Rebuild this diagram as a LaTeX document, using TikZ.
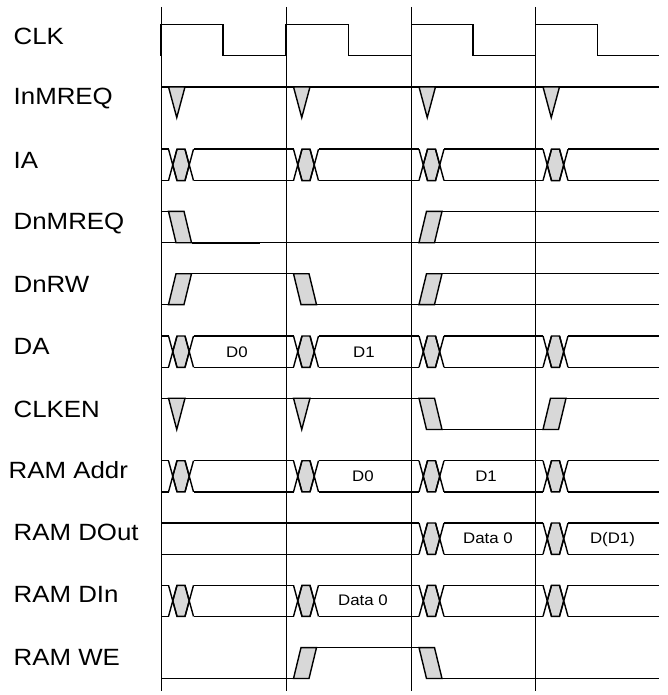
\documentclass[tikz,border=0pt]{standalone}
\usepackage{fontspec}
\setmainfont{Liberation Sans}[FakeStretch=1.1]
\definecolor{tdgray}{RGB}{216,216,216}
\newcommand\tdX[3]{% bus crossing at cycle #1, top #2, bottom #3
  \filldraw[sig,fill=tdgray] (#1+11.75,{(#2+#3)/2}) -- (#1+16,#2) -- (#1+24,#2) -- (#1+28.25,{(#2+#3)/2}) -- (#1+24,#3) -- (#1+16,#3) -- cycle;
  \draw[sig] (#1+7.5,#2) -- (#1+16,#3) (#1+7.5,#3) -- (#1+16,#2)
             (#1+24,#2) -- (#1+32.5,#3) (#1+24,#3) -- (#1+32.5,#2);}
\newcommand\tdSeg[4]{% bus lines from #1 to #2, top #3, bottom #4
  \draw[sig] (#1,#3) -- (#2,#3) (#1,#4) -- (#2,#4);}
\newcommand\tdEdge[3]{% slow edge at cycle #1 from level #2 to level #3
  \filldraw[sig,fill=tdgray] (#1+7.5,#2) -- (#1+23,#2) -- (#1+30.5,#3) -- (#1+15,#3) -- cycle;}
\newcommand\tdPulse[3]{% strobe at cycle #1, level #2, tip #3
  \filldraw[sig,fill=tdgray] (#1+7.5,#2) -- (#1+24,#2) -- (#1+15.75,#3) -- cycle;}
\newcommand\tdFullBus[2]{% bus with crossings in all four cycles
  \tdSeg{161}{168.5}{#1}{#2}
  \tdSeg{193.5}{293.5}{#1}{#2}
  \tdSeg{318.5}{419}{#1}{#2}
  \tdSeg{444}{543}{#1}{#2}
  \tdSeg{568}{659}{#1}{#2}
  \tdX{161}{#1}{#2}\tdX{286}{#1}{#2}\tdX{411.5}{#1}{#2}\tdX{535.5}{#1}{#2}}
\begin{document}
\begin{tikzpicture}[x=1pt,y=-1pt,
  sig/.style={line width=1.4pt,line join=miter},
  thinsig/.style={line width=1pt},
  boldsig/.style={line width=1.9pt},
  gridline/.style={line width=1pt},
  lbl/.style={anchor=base west,inner sep=0pt,font=\fontsize{23.5}{28}\selectfont},
  blbl/.style={anchor=base,inner sep=0pt,font=\fontsize{15.3}{18}\selectfont}]
\useasboundingbox (0,0) rectangle (667,695);
% cycle boundaries
\foreach \c in {161,286,411.5,535.5} \draw[gridline] (\c,7) -- (\c,691);
% labels
\node[lbl] (lclk)   at (13.5,45)  {CLK};
\node[lbl] (linm)   at (13.5,105) {InMREQ};
\node[lbl] (lia)    at (13.5,168) {IA};
\node[lbl] (ldnm)   at (13.5,229) {DnMREQ};
\node[lbl] (ldnrw)  at (13.5,292) {DnRW};
\node[lbl] (lda)    at (13.5,354.5) {DA};
\node[lbl] (lclken) at (13.5,417) {CLKEN};
\node[lbl] (laddr)  at (8.5,478)  {RAM Addr};
\node[lbl] (ldout)  at (13.5,540) {RAM DOut};
\node[lbl] (ldin)   at (13.5,602) {RAM DIn};
\node[lbl] (lwe)    at (13.5,665) {RAM WE};
% CLK
\draw[sig] (161,55.6) -- (161,24.3) -- (223,24.3) -- (223,55.6) -- (286,55.6) -- (286,24.3)
  -- (348.5,24.3) -- (348.5,55.6) -- (411.5,55.6) -- (411.5,24.3) -- (473,24.3) -- (473,55.6)
  -- (535.5,55.6) -- (535.5,24.3) -- (597.5,24.3) -- (597.5,55.6) -- (659,55.6);
% InMREQ
\draw[sig] (161,86.9) -- (659,86.9);
\foreach \c in {161,286,411.5,535.5} {\tdPulse{\c}{86.9}{117.6}}
% IA
\tdFullBus{149.2}{180.6}
% DnMREQ
\draw[thinsig] (161,242.7) -- (659,242.7);
\draw[sig] (161,211.3) -- (168.5,211.3);
\tdEdge{161}{211.3}{242.7}
\draw[boldsig] (191.5,242.7) -- (260,242.7);
\tdEdge{411.5}{242.7}{211.3}
\draw[sig] (426.5,211.3) -- (659,211.3);
% DnRW
\draw[sig] (161,304.6) -- (168.5,304.6);
\tdEdge{161}{304.6}{273.7}
\draw[sig] (176,273.7) -- (293.5,273.7);
\tdEdge{286}{273.7}{304.6}
\draw[sig] (301,304.6) -- (659,304.6);
\tdEdge{411.5}{304.6}{273.7}
\draw[sig] (426.5,273.7) -- (659,273.7);
% DA
\tdFullBus{336}{367.3}
\node[blbl] (da0) at (237,357.7) {D0};
\node[blbl] (da1) at (364,357.7) {D1};
% CLKEN
\draw[sig] (161,398.2) -- (419,398.2);
\tdPulse{161}{398.2}{429.5}
\tdPulse{286}{398.2}{429.5}
\tdEdge{411.5}{398.2}{429.5}
\draw[sig] (426.5,429.5) -- (543,429.5);
\tdEdge{535.5}{429.5}{398.2}
\draw[sig] (550.5,398.2) -- (659,398.2);
% RAM Addr
\tdFullBus{460.7}{491.9}
\node[blbl] (ad0) at (363,481.6) {D0};
\node[blbl] (ad1) at (486,481.6) {D1};
% RAM DOut
\tdSeg{161}{419}{523}{554.3}
\tdSeg{444}{543}{523}{554.3}
\tdSeg{568}{659}{523}{554.3}
\tdX{411.5}{523}{554.3}
\tdX{535.5}{523}{554.3}
\node[blbl] (do0) at (488,543.9) {Data 0};
\node[blbl] (do1) at (612.5,543.9) {D(D1)};
% RAM DIn
\tdFullBus{585.3}{616.4}
\node[blbl] (di0) at (363,605.9) {Data 0};
% RAM WE
\draw[sig] (161,678.5) -- (293.5,678.5);
\tdEdge{286}{678.5}{647.6}
\draw[sig] (301,647.6) -- (419,647.6);
\tdEdge{411.5}{647.6}{678.5}
\draw[sig] (426.5,678.5) -- (659,678.5);
\end{tikzpicture}
\end{document}
